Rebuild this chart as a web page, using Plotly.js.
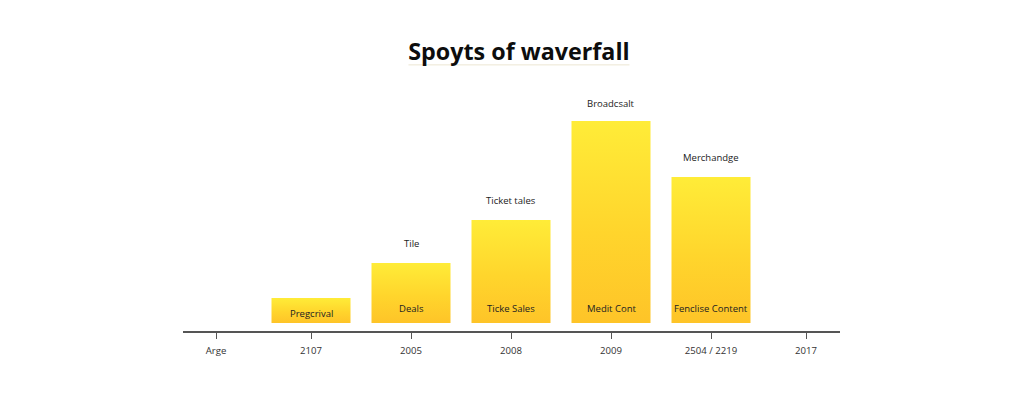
<!DOCTYPE html>
<html>
<head>
<meta charset="utf-8">
<script src="https://cdn.plot.ly/plotly-3.0.1.min.js"></script>
<style>
  html, body { margin: 0; padding: 0; background: #fff; }
</style>
</head>
<body>
<div id="chart" style="width:1024px;height:400px;"></div>
<script>
// values
const barPositions = [1, 2, 3, 4, 5];
const barValues = [25, 60, 103, 202, 146];
const barBase = 8;
const innerLabels = ['Pregcrival', 'Deals', 'Ticke Sales', 'Medit Cont', 'Fenclise Content'];
const upperLabels = ['', 'Tile', 'Ticket tales', 'Broadcsalt', 'Merchandge'];
const tickPositions = [0.05, 1, 2, 3, 4, 5, 5.95];
const tickLabels = ['Arge', '2107', '2005', '2008', '2009', '2504 / 2219', '2017'];

const bars = {
  type: 'bar',
  x: barPositions,
  y: barValues,
  base: barBase,
  width: 0.79,
  marker: { color: '#ffd92c', line: { width: 0 } },
  hoverinfo: 'x+y'
};

const labelFont = { family: 'Open Sans, sans-serif', size: 9.5, color: '#222222' };

// labels inside the bars, then the ones above them
const annotations = [];
barPositions.forEach(function (pos, i) {
  annotations.push({
    x: pos, y: barBase, xref: 'x', yref: 'y',
    text: innerLabels[i], showarrow: false, font: labelFont,
    yanchor: 'middle', yshift: i === 0 ? 10 : 15
  });
  if (upperLabels[i]) {
    annotations.push({
      x: pos, y: barBase + barValues[i], xref: 'x', yref: 'y',
      text: upperLabels[i], showarrow: false, font: labelFont,
      yanchor: 'middle', yshift: i === 3 ? 18 : 20
    });
  }
});

const layout = {
  width: 1024,
  height: 400,
  margin: { l: 183, r: 184, t: 60, b: 69 },
  paper_bgcolor: '#ffffff',
  plot_bgcolor: '#ffffff',
  showlegend: false,
  bargap: 0.2,
  title: {
    text: '<b>Spoyts of waverfall</b>',
    font: { family: 'Open Sans, sans-serif', size: 23.3, color: '#0d0d0d' },
    x: 0.5068, xanchor: 'center', xref: 'container',
    y: 0.87, yanchor: 'middle', yref: 'container'
  },
  xaxis: {
    range: [-0.28, 6.29],
    tickmode: 'array',
    tickvals: tickPositions,
    ticktext: tickLabels,
    ticks: 'outside',
    ticklen: 6,
    tickcolor: '#555555',
    tickwidth: 1,
    ticklabelstandoff: 4,
    tickfont: { family: 'Open Sans, sans-serif', size: 9.6, color: '#333333' },
    showline: true,
    linecolor: '#555555',
    linewidth: 1.5,
    showgrid: false,
    zeroline: false,
    fixedrange: true
  },
  yaxis: { range: [0, 271], visible: false, fixedrange: true },
  annotations: annotations,
  // faint rule under the title
  shapes: [{
    type: 'line', xref: 'paper', yref: 'paper',
    x0: 0.3432, x1: 0.6796, y0: 0.982, y1: 0.982,
    line: { color: '#ece6d2', width: 1 }
  }]
};

Plotly.newPlot('chart', [bars], layout, { displayModeBar: false }).then(function (gd) {
  // plotly has no gradient for bars, so add one in the svg and point the bars at it
  const svg = gd.querySelector('.main-svg');
  const ns = 'http://www.w3.org/2000/svg';
  const defs = svg.querySelector('defs') || svg.insertBefore(document.createElementNS(ns, 'defs'), svg.firstChild);
  const grad = document.createElementNS(ns, 'linearGradient');
  grad.setAttribute('id', 'barFade');
  grad.setAttribute('x1', '0'); grad.setAttribute('y1', '0');
  grad.setAttribute('x2', '0'); grad.setAttribute('y2', '1');
  [['0%', '#ffec38'], ['55%', '#ffd52c'], ['100%', '#fec428']].forEach(function (s) {
    const stop = document.createElementNS(ns, 'stop');
    stop.setAttribute('offset', s[0]);
    stop.setAttribute('stop-color', s[1]);
    grad.appendChild(stop);
  });
  defs.appendChild(grad);
  gd.querySelectorAll('.bars .point path').forEach(function (p) {
    p.style.fill = 'url(#barFade)';
  });
});
</script>
</body>
</html>
